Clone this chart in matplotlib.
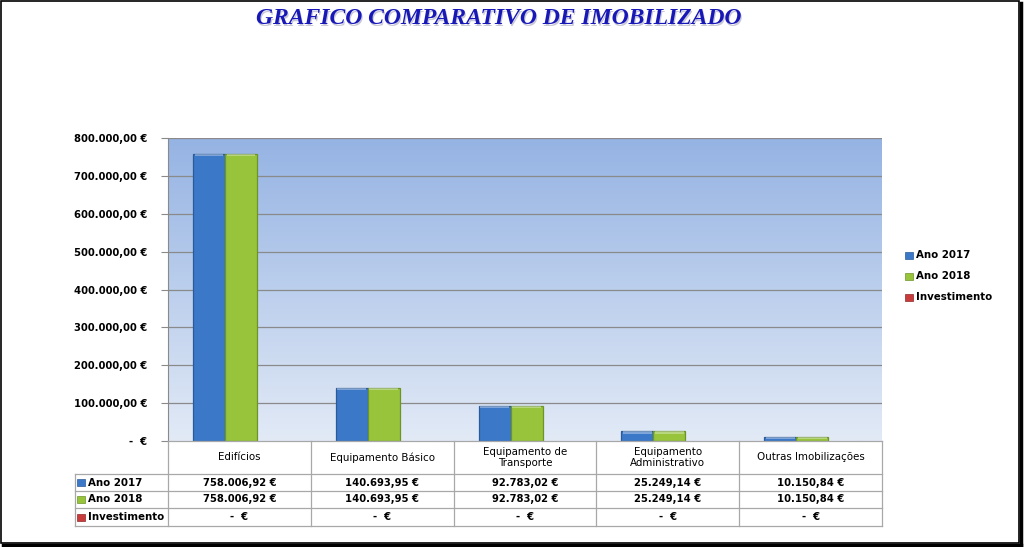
import matplotlib
matplotlib.use("Agg")
import matplotlib.pyplot as plt
import numpy as np
from matplotlib.patches import Rectangle
from matplotlib.lines import Line2D

categories = ["Edifícios", "Equipamento Básico", "Equipamento de\nTransporte",
              "Equipamento\nAdministrativo", "Outras Imobilizações"]
series_names = ["Ano 2017", "Ano 2018", "Investimento"]
ano2017 = [758006.92, 140693.95, 92783.02, 25249.14, 10150.84]
ano2018 = [758006.92, 140693.95, 92783.02, 25249.14, 10150.84]
investimento = [0, 0, 0, 0, 0]
yticks = [0, 100000, 200000, 300000, 400000, 500000, 600000, 700000, 800000]
title = "GRAFICO COMPARATIVO DE IMOBILIZADO"

colors = ["#3c78c8", "#98c43c", "#c83c3c"]
edges = ["#2a5a9a", "#6e9428", "#902828"]

def eur(v):
    if v == 0:
        return "-  €"
    s = f"{v:,.2f}".replace(",", "X").replace(".", ",").replace("X", ".")
    return s + " €"

W, H = 1024, 547
fig = plt.figure(figsize=(W / 100, H / 100), dpi=100)
fig.patch.set_facecolor("white")

def fx(px):
    return px / W

def fy(py):
    return 1 - py / H

# plot area
L, R, T, B = 168, 882, 138, 441
ax = fig.add_axes([fx(L), fy(B), fx(R - L), (B - T) / H])
ax.set_xlim(-0.5, 4.5)
ax.set_ylim(0, 800000)

# gradient background
grad = np.linspace(0, 1, 256).reshape(-1, 1)
top = np.array([0x95, 0xb3, 0xe3]) / 255
bot = np.array([0xe2, 0xea, 0xf6]) / 255
img = bot[None, None, :] * (1 - grad[:, :, None]) + top[None, None, :] * grad[:, :, None]
ax.imshow(img, extent=(-0.5, 4.5, 0, 800000), aspect="auto", origin="lower", zorder=0)

for y in yticks[1:]:
    ax.axhline(y, color="#8a8a8a", lw=0.9, zorder=1)

x = np.arange(len(categories))
w = 0.224
shift = 0.011
data = [ano2017, ano2018, investimento]
for i, (vals, c, e) in enumerate(zip(data, colors, edges)):
    xpos = x + (i - 1) * w + shift
    bars = ax.bar(xpos, vals, width=w, color=c, edgecolor=e, linewidth=0.9, zorder=3)
    for b, v in zip(bars, vals):
        if v == 0:
            b.set_linewidth(0)
    # light cap to suggest 3D bevel
    ax.bar(xpos, [6000 if v > 0 else 0 for v in vals],
           bottom=[max(v - 6000, 0) for v in vals], width=w * 0.9,
           color="white", alpha=0.35, linewidth=0, zorder=4)

ax.set_yticks(yticks)
ax.set_yticklabels([eur(v) for v in yticks], fontsize=7.2, fontweight="bold",
                   family="DejaVu Sans")
ax.tick_params(axis="y", length=5, color="#8a8a8a", pad=10)
ax.set_xticks([])
for s in ["top", "right", "bottom"]:
    ax.spines[s].set_visible(False)
ax.spines["left"].set_color("#8a8a8a")

# data table
grid_c = "#a8a8a8"
col_edges = [L + (R - L) * k / 5 for k in range(6)]
row_y = [441, 474, 491, 508, 526]
lab_left = 75
lines = []
for xe in col_edges:
    lines.append(([xe, xe], [row_y[0], row_y[-1]]))
lines.append(([L, R], [row_y[0], row_y[0]]))
for ry in row_y[1:]:
    lines.append(([lab_left, R], [ry, ry]))
lines.append(([lab_left, lab_left], [row_y[1], row_y[-1]]))
for xs, ys in lines:
    fig.add_artist(Line2D([fx(v) for v in xs], [fy(v) for v in ys], color=grid_c, lw=0.9))

for k, cat in enumerate(categories):
    cx = (col_edges[k] + col_edges[k + 1]) / 2
    fig.text(fx(cx), fy((row_y[0] + row_y[1]) / 2), cat, ha="center", va="center",
             fontsize=7.4, family="DejaVu Sans", linespacing=1.1)
    for r, vals in enumerate(data):
        cy = (row_y[r + 1] + row_y[r + 2]) / 2
        fig.text(fx(cx), fy(cy), eur(vals[k]), ha="center", va="center",
                 fontsize=7.2, fontweight="bold", family="DejaVu Sans")

for r, name in enumerate(series_names):
    cy = (row_y[r + 1] + row_y[r + 2]) / 2
    fig.add_artist(Rectangle((fx(77), fy(cy + 3.5)), 8 / W, 7 / H, facecolor=colors[r],
                             edgecolor=edges[r], lw=0.5))
    fig.text(fx(88), fy(cy), name, ha="left", va="center", fontsize=7.4,
             fontweight="bold", family="DejaVu Sans")

# legend
for r, name in enumerate(series_names):
    cy = 255 + r * 21
    fig.add_artist(Rectangle((fx(905), fy(cy + 3.5)), 8 / W, 7 / H, facecolor=colors[r],
                             edgecolor=edges[r], lw=0.5))
    fig.text(fx(916), fy(cy), name, ha="left", va="center", fontsize=7.4,
             fontweight="bold", family="DejaVu Sans")

# title with slight shadow
fig.text(fx(499) + 1.0 / W, fy(19) - 1.0 / H, title, ha="center", va="center",
         fontsize=17, fontweight="bold", style="italic", family="Liberation Serif",
         color="#c8c8d8")
fig.text(fx(499), fy(19), title, ha="center", va="center", fontsize=17,
         fontweight="bold", style="italic", family="Liberation Serif", color="#1818b8")

# outer frame with shadow
fig.add_artist(Rectangle((fx(1), fy(543)), (1018) / W, (542) / H, fill=False,
                         edgecolor="black", lw=1.2))
fig.add_artist(Line2D([fx(1021), fx(1021)], [fy(3), fy(545)], color="black", lw=2.5))
fig.add_artist(Line2D([fx(3), fx(1021)], [fy(545), fy(545)], color="black", lw=2.5))

fig.savefig("out.png", dpi=100, facecolor="white")
